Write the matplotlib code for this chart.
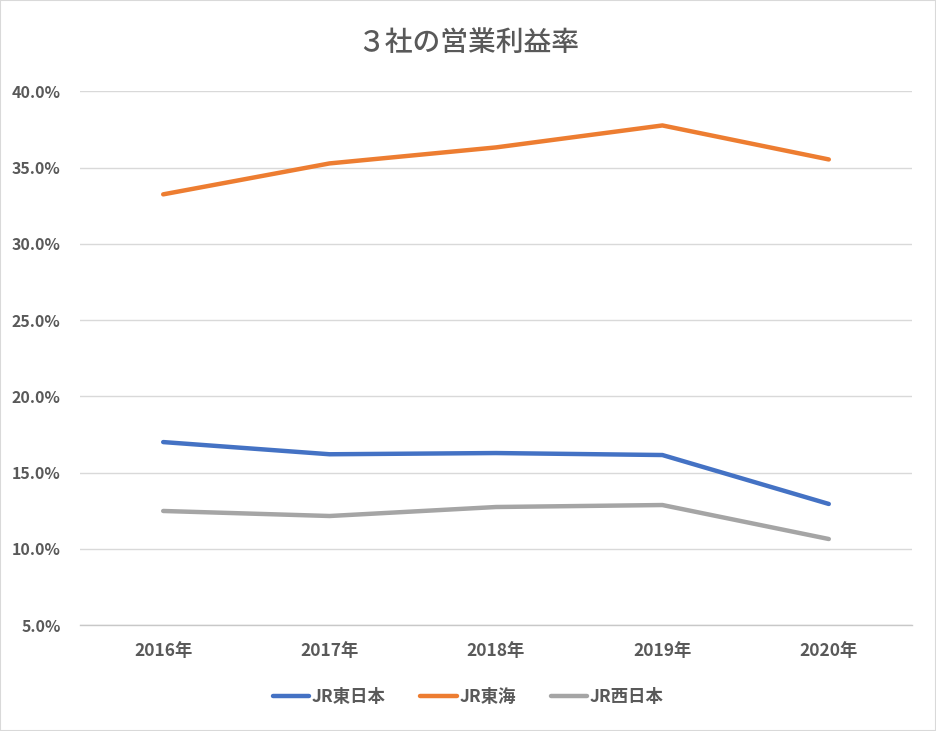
import matplotlib
matplotlib.use("Agg")
import matplotlib.pyplot as plt
from matplotlib.patches import Rectangle

plt.rcParams['font.family'] = ['Noto Sans CJK JP', 'DejaVu Sans']

years = ["2016年", "2017年", "2018年", "2019年", "2020年"]
jr_east = [17.0, 16.2, 16.28, 16.15, 12.94]
jr_central = [33.25, 35.28, 36.33, 37.77, 35.54]
jr_west = [12.48, 12.15, 12.74, 12.87, 10.64]
series_names = ["JR東日本", "JR東海", "JR西日本"]
colors = ["#4472C4", "#ED7D31", "#A5A5A5"]
yticks = [5, 10, 15, 20, 25, 30, 35, 40]

fig = plt.figure(figsize=(9.36, 7.31), dpi=100)
fig.patches.append(Rectangle((0, 0), 1, 1, transform=fig.transFigure,
                             fill=False, edgecolor="#D9D9D9", linewidth=1.5))
ax = fig.add_axes([80/936, 1-625/731, (912-80)/936, (625-91)/731])

x = range(len(years))
for vals, name, c in zip([jr_east, jr_central, jr_west], series_names, colors):
    ax.plot(x, vals, color=c, linewidth=3.2, label=name, solid_capstyle='round')

ax.set_xlim(-0.5, len(years) - 0.5)
ax.set_ylim(5, 40.03)
ax.set_yticks(yticks)
ax.set_yticklabels([f"{v:.1f}%" for v in yticks])
ax.set_xticks(list(x))
ax.set_xticklabels(years)
ax.grid(axis='y', color="#D9D9D9", linewidth=1)
ax.set_axisbelow(True)
for s in ax.spines.values():
    s.set_visible(False)
ax.spines['bottom'].set_visible(True)
ax.spines['bottom'].set_color("#C8C8C8")
ax.spines['bottom'].set_linewidth(1)
ax.tick_params(length=0, labelcolor="#595959")
ax.tick_params(axis='y', labelsize=11.5, pad=14)
ax.tick_params(axis='x', labelsize=12.5, pad=12)
for lab in ax.get_xticklabels() + ax.get_yticklabels():
    lab.set_fontweight('bold')

fig.text(0.5, 1-42/731, "３社の営業利益率", ha='center', va='center',
         fontsize=20, color="#595959", fontweight='medium')

leg = fig.legend(loc='center', bbox_to_anchor=(0.5, 1-697/731), ncol=3,
                 frameon=False, fontsize=12.5, handlelength=2.1,
                 columnspacing=2.0, handletextpad=0.15)
for t in leg.get_texts():
    t.set_color("#595959")
    t.set_fontweight('bold')

fig.savefig("out.png", dpi=100)
